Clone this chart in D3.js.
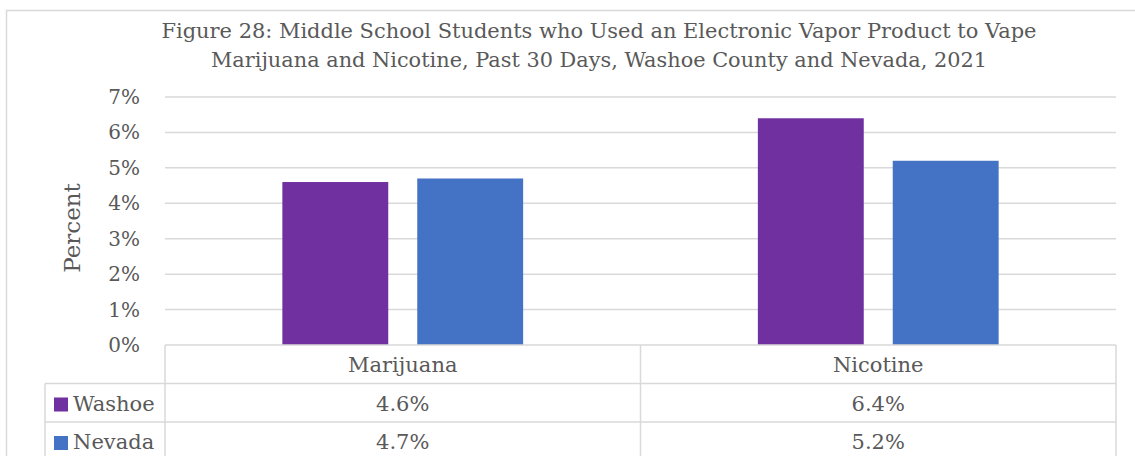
<!DOCTYPE html>
<html><head><meta charset="utf-8">
<script src="https://cdn.jsdelivr.net/npm/d3@7"></script>
<style>
body{margin:0;background:#fff;}
svg text{font-family:"DejaVu Serif","Liberation Serif",serif;fill:#595959;}
</style></head>
<body><svg id="c" width="1135" height="456"></svg>
<script>
const categories = ["Marijuana", "Nicotine"];
const seriesNames = ["Washoe", "Nevada"];
const washoe = [4.6, 6.4];
const nevada = [4.7, 5.2];
const yTicks = [0, 1, 2, 3, 4, 5, 6, 7];
const titleLines = ["Figure 28: Middle School Students who Used an Electronic Vapor Product to Vape",
                    "Marijuana and Nicotine, Past 30 Days, Washoe County and Nevada, 2021"];
const colors = ["#7030A0", "#4472C4"];
const seriesValues = [washoe, nevada];

const svg = d3.select("#c");
const grid = "#d9d9d9";

// outer border
svg.append("rect").attr("x", 6.5).attr("y", 10.5).attr("width", 1140).attr("height", 460)
  .attr("fill", "none").attr("stroke", grid).attr("stroke-width", 1.5);

const L = 165, R = 1116, T = 97, B = 345;
const x = d3.scaleBand().domain(categories).range([L, R]).paddingInner(0).paddingOuter(0);
const y = d3.scaleLinear().domain([0, 7]).range([B, T]);

// title
titleLines.forEach((t, i) => {
  svg.append("text").attr("x", 599).attr("y", 38 + i * 29).attr("text-anchor", "middle")
    .attr("font-size", 20).attr("textLength", i === 0 ? 875 : 776).attr("lengthAdjust", "spacingAndGlyphs")
    .text(t);
});

// gridlines
svg.append("g").selectAll("line").data(yTicks.filter(d => d > 0)).join("line")
  .attr("x1", L).attr("x2", R).attr("y1", d => y(d)).attr("y2", d => y(d))
  .attr("stroke", grid).attr("stroke-width", 1.5);

// y tick labels
svg.append("g").selectAll("text").data(yTicks).join("text")
  .attr("x", 140).attr("y", d => y(d) + 7).attr("text-anchor", "end")
  .attr("font-size", 20).text(d => d + "%");

// y axis title
svg.append("text").attr("transform", "translate(80,228) rotate(-90)")
  .attr("text-anchor", "middle").attr("font-size", 23).text("Percent");

// bars
const sub = d3.scaleBand().domain(seriesNames).range([0, x.bandwidth()]).paddingInner(0.215).paddingOuter(0.87);
seriesNames.forEach((s, si) => {
  svg.append("g").selectAll("rect").data(categories).join("rect")
    .attr("x", c => x(c) + sub(s))
    .attr("width", sub.bandwidth())
    .attr("y", (c, ci) => y(seriesValues[si][ci]))
    .attr("height", (c, ci) => B - y(seriesValues[si][ci]))
    .attr("fill", colors[si]);
});

// data table
const rowH = 38.5;
const tbl = svg.append("g").attr("stroke", grid).attr("stroke-width", 1.5).attr("fill", "none");
tbl.append("line").attr("x1", L).attr("x2", R).attr("y1", B).attr("y2", B);
[1, 2, 3].forEach(r => tbl.append("line").attr("x1", 45).attr("x2", R).attr("y1", B + r * rowH).attr("y2", B + r * rowH));
tbl.append("line").attr("x1", 45).attr("x2", 45).attr("y1", B + rowH).attr("y2", 470);
[L, x(categories[1]), R].forEach(v => tbl.append("line").attr("x1", v).attr("x2", v).attr("y1", B).attr("y2", 470));

// category labels
svg.append("g").selectAll("text").data(categories).join("text")
  .attr("x", c => x(c) + x.bandwidth() / 2).attr("y", B + 27).attr("text-anchor", "middle")
  .attr("font-size", 21).text(c => c);

seriesNames.forEach((s, si) => {
  const ry = B + (si + 1) * rowH;
  svg.append("rect").attr("x", 54).attr("y", ry + 14).attr("width", 14).attr("height", 14).attr("fill", colors[si]);
  svg.append("text").attr("x", 73).attr("y", ry + 27).attr("font-size", 21).text(s);
  svg.append("g").selectAll("text").data(categories).join("text")
    .attr("x", c => x(c) + x.bandwidth() / 2).attr("y", ry + 27).attr("text-anchor", "middle")
    .attr("font-size", 21).text((c, ci) => seriesValues[si][ci].toFixed(1) + "%");
});
</script></body></html>
